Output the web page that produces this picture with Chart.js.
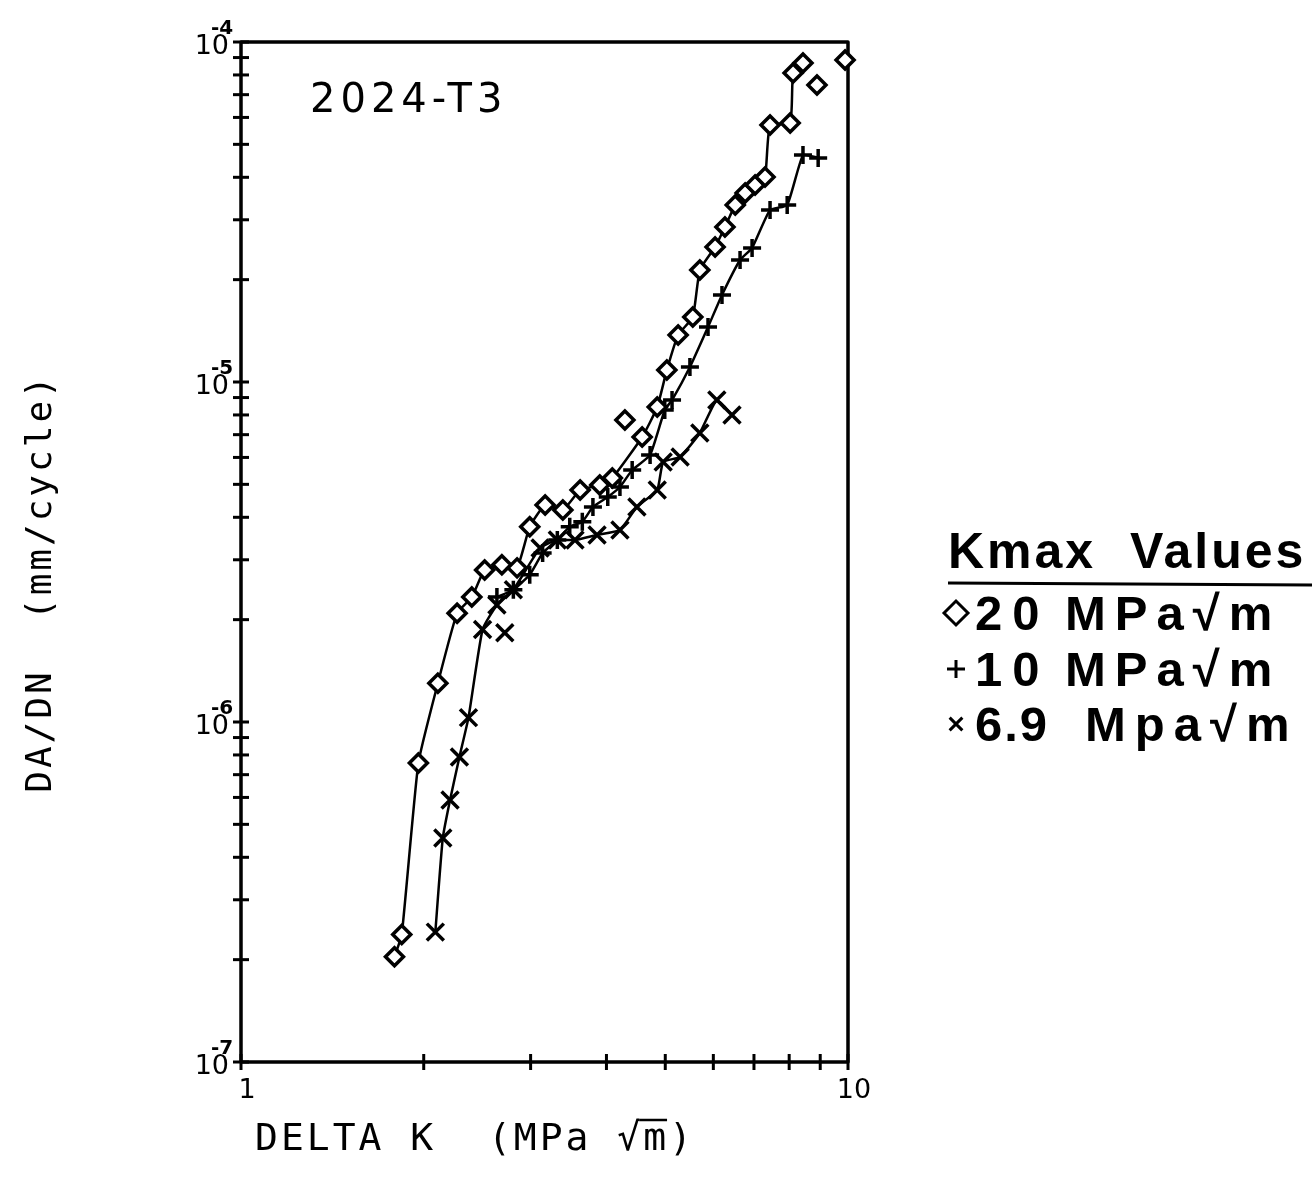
<!DOCTYPE html>
<html>
<head>
<meta charset="utf-8">
<title>2024-T3 da/dN vs Delta K</title>
<script src="https://cdn.jsdelivr.net/npm/chart.js@4.4.1/dist/chart.umd.min.js"></script>
<style>
    html, body { margin: 0; padding: 0; background: #fff; }
    #wrap { width: 1315px; height: 1179px; }
</style>
</head>
<body>
<div id="wrap"><canvas id="crackChart" width="1315" height="1179"></canvas></div>
<script>
// ============================================
// DATOS - Kmax = 20 MPa√m (diamantes)
// ============================================
const deltaK20 = [1.79, 1.84, 1.96, 2.11, 2.27, 2.40, 2.52, 2.69, 2.85, 2.99, 3.17, 3.39, 3.62, 3.90, 4.09,
                  4.58, 4.85, 5.03, 5.25, 5.55, 5.70, 6.04, 6.27, 6.52, 6.77, 7.03, 7.30, 7.44, 8.03, 8.12, 8.43];
const dadn20 = [2.04e-7, 2.37e-7, 7.58e-7, 1.30e-6, 2.09e-6, 2.33e-6, 2.80e-6, 2.90e-6, 2.84e-6, 3.75e-6, 4.35e-6,
                4.20e-6, 4.81e-6, 4.98e-6, 5.22e-6, 6.89e-6, 8.44e-6, 1.085e-5, 1.375e-5, 1.553e-5, 2.135e-5,
                2.495e-5, 2.857e-5, 3.316e-5, 3.596e-5, 3.796e-5, 4.009e-5, 5.70e-5, 5.78e-5, 8.11e-5, 8.67e-5];
// puntos sueltos (sin linea)
const deltaK20Extra = [4.29, 8.89, 9.89];
const dadn20Extra = [7.73e-6, 7.47e-5, 8.85e-5];

// Kmax = 10 MPa√m (cruces +)
const deltaK10 = [2.64, 2.81, 2.99, 3.14, 3.32, 3.48, 3.65, 3.80, 4.02, 4.21, 4.41, 4.72, 4.99, 5.13, 5.49,
                  5.88, 6.20, 6.64, 6.95, 7.44, 7.94, 8.43, 8.93];
const dadn10 = [2.33e-6, 2.45e-6, 2.71e-6, 3.14e-6, 3.43e-6, 3.75e-6, 3.88e-6, 4.29e-6, 4.59e-6, 4.91e-6, 5.51e-6,
                6.10e-6, 8.27e-6, 8.85e-6, 1.107e-5, 1.451e-5, 1.803e-5, 2.285e-5, 2.478e-5, 3.205e-5, 3.316e-5,
                4.65e-5, 4.56e-5];

// Kmax = 6.9 MPa√m (x)
const deltaK69 = [2.09, 2.15, 2.21, 2.29, 2.37, 2.50, 2.64, 2.81, 3.11, 3.32, 3.55, 3.86, 4.21, 4.49, 4.85,
                  4.96, 5.29, 5.70, 6.08, 6.44];
const dadn69 = [2.41e-7, 4.56e-7, 5.90e-7, 7.89e-7, 1.03e-6, 1.87e-6, 2.21e-6, 2.45e-6, 3.25e-6, 3.43e-6, 3.43e-6,
                3.55e-6, 3.67e-6, 4.29e-6, 4.81e-6, 5.82e-6, 6.02e-6, 7.08e-6, 8.85e-6, 8.00e-6];
const deltaK69Extra = [2.72];
const dadn69Extra = [1.83e-6];

// Ejes y etiquetas
const xTickValues = [1, 2, 3, 4, 5, 6, 7, 8, 9, 10];
const xTickLabels = ['1', '', '', '', '', '', '', '', '', '10'];
const yDecades = [-7, -6, -5, -4];
const yMantissas = [1, 2, 3, 4, 5, 6, 7, 8, 9];

const legendTitle = 'Kmax  Values';
const legendNumbers = ['20', '10', '6.9'];
const legendUnits = ['MPa√m', 'MPa√m', 'Mpa√m'];
const legendStyles = ['rectRot', 'cross', 'crossRot'];

const alloyLabel = '2024-T3';
const xTitle = 'DELTA K  (MPa √m)';
const yTitle = 'DA/DN  (mm/cycle)';

// Construir puntos
function toPoints(xs, ys) {
    return xs.map((x, i) => ({ x: x, y: ys[i] }));
}

function serie(label, xs, ys, style, radius, conLinea) {
    return {
        label: label,
        data: toPoints(xs, ys),
        showLine: conLinea,
        borderColor: '#000',
        borderWidth: 2.5,
        tension: 0.15,
        pointStyle: style,
        pointRadius: radius,
        pointBorderWidth: 3.5,
        pointBorderColor: '#000',
        pointBackgroundColor: '#fff',
        clip: false
    };
}

// Marco, marcas de escala y textos
const paperPlugin = {
    id: 'paper',
    beforeDatasetsDraw(chart) {
        const ctx = chart.ctx;
        const a = chart.chartArea;
        const xs = chart.scales.x;
        const ys = chart.scales.y;
        ctx.save();
        ctx.strokeStyle = '#000';
        ctx.lineWidth = 3.5;
        ctx.lineJoin = 'round';
        ctx.strokeRect(a.left, a.top, a.right - a.left, a.bottom - a.top);

        ctx.lineWidth = 3;
        yDecades.forEach(e => {
            yMantissas.forEach(m => {
                const v = m * Math.pow(10, e);
                if (v > 1e-4 * 1.0001) return;
                const py = ys.getPixelForValue(v);
                ctx.beginPath();
                ctx.moveTo(a.left - 8, py);
                ctx.lineTo(a.left + 8, py);
                ctx.stroke();
            });
        });
        xTickValues.forEach(v => {
            const px = xs.getPixelForValue(v);
            ctx.beginPath();
            ctx.moveTo(px, a.bottom - 8);
            ctx.lineTo(px, a.bottom + 8);
            ctx.stroke();
        });
        ctx.restore();
    },
    afterDraw(chart) {
        const ctx = chart.ctx;
        const a = chart.chartArea;
        const xs = chart.scales.x;
        const ys = chart.scales.y;
        ctx.save();
        ctx.fillStyle = '#000';
        ctx.strokeStyle = '#000';

        // etiquetas eje y (10^n)
        yDecades.forEach(e => {
            const py = ys.getPixelForValue(Math.pow(10, e));
            ctx.font = '27px "DejaVu Sans"';
            ctx.textAlign = 'right';
            ctx.textBaseline = 'alphabetic';
            ctx.fillText('10', a.left - 12, py + 12);
            ctx.font = 'bold 20px "DejaVu Sans"';
            ctx.textAlign = 'left';
            ctx.fillText(String(e), a.left - 30, py - 8);
        });

        // etiquetas eje x
        ctx.font = '27px "DejaVu Sans"';
        ctx.textAlign = 'center';
        ctx.textBaseline = 'alphabetic';
        xTickValues.forEach((v, i) => {
            if (!xTickLabels[i]) return;
            ctx.fillText(xTickLabels[i], xs.getPixelForValue(v) + 6, a.bottom + 36);
        });

        // aleacion
        ctx.font = '40px "DejaVu Sans"';
        ctx.letterSpacing = '5px';
        ctx.textAlign = 'left';
        ctx.fillText(alloyLabel, 310, 112);

        // titulo eje x
        ctx.font = '38px "DejaVu Sans Mono"';
        ctx.letterSpacing = '3px';
        ctx.fillText(xTitle, 255, 1150);
        const wAntes = ctx.measureText(xTitle.slice(0, xTitle.indexOf('√') + 1)).width;
        const wM = ctx.measureText('m').width;
        ctx.lineWidth = 2.5;
        ctx.beginPath();
        ctx.moveTo(255 + wAntes - 4, 1120);
        ctx.lineTo(255 + wAntes + wM - 2, 1120);
        ctx.stroke();

        // titulo eje y
        ctx.save();
        ctx.translate(42, 583);
        ctx.rotate(-Math.PI / 2);
        ctx.font = '36px "DejaVu Sans Mono"';
        ctx.letterSpacing = '3px';
        ctx.textAlign = 'center';
        ctx.textBaseline = 'middle';
        ctx.fillText(yTitle, 0, 0);
        ctx.restore();

        // leyenda
        ctx.letterSpacing = '3px';
        ctx.font = 'bold 50px "Liberation Sans"';
        ctx.textAlign = 'left';
        ctx.fillText(legendTitle, 948, 568);
        ctx.lineWidth = 3;
        ctx.beginPath();
        ctx.moveTo(948, 583);
        ctx.lineTo(1312, 585);
        ctx.stroke();

        const filas = [630, 686, 741];
        legendNumbers.forEach((num, i) => {
            const y = filas[i];
            ctx.fillStyle = '#fff';
            ctx.lineWidth = 3;
            Chart.helpers.drawPoint(ctx, {
                pointStyle: legendStyles[i],
                radius: i === 0 ? 12 : 9,
                borderWidth: 3,
                rotation: 0
            }, 956, y - 17);
            ctx.fillStyle = '#000';
            ctx.font = 'bold 49px "Liberation Sans"';
            ctx.letterSpacing = i === 2 ? '2px' : '10px';
            ctx.fillText(num, 975, y);
            ctx.letterSpacing = '9px';
            ctx.fillText(legendUnits[i], i === 2 ? 1085 : 1065, y);
        });
        ctx.restore();
    }
};

// Crear grafico
const ctxChart = document.getElementById('crackChart');
const crackChart = new Chart(ctxChart, {
    type: 'scatter',
    data: {
        datasets: [
            serie('20 MPa√m', deltaK20, dadn20, 'rectRot', 9, true),
            serie('20 MPa√m extra', deltaK20Extra, dadn20Extra, 'rectRot', 9, false),
            serie('10 MPa√m', deltaK10, dadn10, 'cross', 9, true),
            serie('6.9 MPa√m', deltaK69, dadn69, 'crossRot', 12, true),
            serie('6.9 MPa√m extra', deltaK69Extra, dadn69Extra, 'crossRot', 12, false)
        ]
    },
    options: {
        responsive: false,
        animation: false,
        devicePixelRatio: 1,
        layout: { padding: { left: 241, right: 467, top: 42, bottom: 117 } },
        plugins: {
            legend: { display: false },
            tooltip: { enabled: false }
        },
        scales: {
            x: { type: 'logarithmic', min: 1, max: 10, display: false },
            y: { type: 'logarithmic', min: 1e-7, max: 1e-4, display: false }
        }
    },
    plugins: [paperPlugin]
});

console.log('Grafico 2024-T3 listo');
</script>
</body>
</html>
